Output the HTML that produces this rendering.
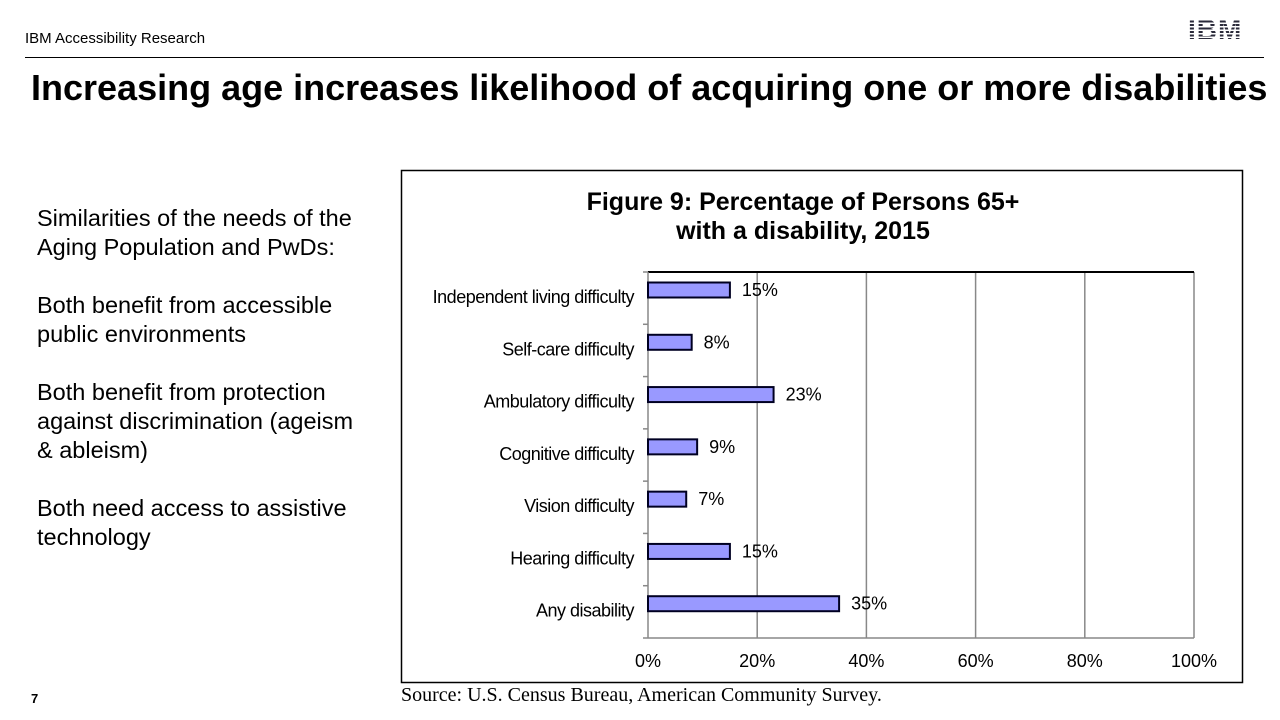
<!DOCTYPE html>
<html><head><meta charset="utf-8"><style>
body{margin:0;width:1280px;height:720px;background:#fff;position:relative;overflow:hidden;font-family:"Liberation Sans",Arial,sans-serif}
.abs{position:absolute}
</style></head><body>
<div class="abs" style="left:25px;top:30px;font-size:15px;color:#000">IBM Accessibility Research</div>
<div class="abs" style="left:1188px;top:15px;width:68px;height:30px;font:bold 28px 'Liberation Sans';color:#2a2a3a;letter-spacing:1px;line-height:30px">IBM</div>
<div class="abs" style="left:1186px;top:17px;width:72px;height:27px;background:repeating-linear-gradient(transparent 0 2px,#fff 2px 3.5px)"></div>
<div class="abs" style="left:25px;top:57px;width:1239px;height:1px;background:#000"></div>
<div class="abs" style="left:31px;top:67px;font-size:36px;font-weight:bold;color:#000;white-space:nowrap">Increasing age increases likelihood of acquiring one or more disabilities</div>
<div class="abs" style="left:37px;top:204px;width:328px;font-size:23.5px;line-height:29px;color:#000">
<p style="margin:0 0 29px">Similarities of the needs of the Aging Population and PwDs:</p>
<p style="margin:0 0 29px">Both benefit from accessible public environments</p>
<p style="margin:0 0 29px">Both benefit from protection against discrimination (ageism &amp; ableism)</p>
<p style="margin:0">Both need access to assistive technology</p></div>
<div class="abs" style="left:31px;top:691px;font-size:13px;font-weight:bold">7</div>
<div class="abs" style="left:401px;top:684px;font:20px 'Liberation Serif',serif;color:#000;white-space:nowrap">Source: U.S. Census Bureau, American Community Survey.</div>
<svg class="abs" style="left:0;top:0" width="1280" height="720">
<rect x="401.5" y="170.5" width="841" height="512" fill="#fff" stroke="#000" stroke-width="1.5"/>
<text x="803" y="210" text-anchor="middle" font-family="Liberation Sans" font-weight="bold" font-size="25">Figure 9: Percentage of Persons 65+</text>
<text x="803" y="239" text-anchor="middle" font-family="Liberation Sans" font-weight="bold" font-size="25">with a disability, 2015</text>
<g id="g"></g>
</svg>
<script>
const categories=["Independent living difficulty","Self-care difficulty","Ambulatory difficulty","Cognitive difficulty","Vision difficulty","Hearing difficulty","Any disability"];
const values=[15,8,23,9,7,15,35];
const ticks=[0,20,40,60,80,100];
const x0=648,x1=1194,yT=272,yB=638;
const xs=v=>x0+(x1-x0)*v/100;
const band=(yB-yT)/categories.length;
const g=document.getElementById('g');
const NS='http://www.w3.org/2000/svg';
function mk(t,a){const e=document.createElementNS(NS,t);for(const k in a)e.setAttribute(k,a[k]);g.appendChild(e);return e;}
ticks.forEach((t,i)=>{
 if(i>0){const l=mk('line',{x1:xs(t),x2:xs(t),y1:yT,y2:yB,stroke:'#888','stroke-width':1.5});
 
 }
 const tx=mk('text',{x:xs(t),y:667,'text-anchor':'middle','font-family':'Liberation Sans','font-size':18});
 tx.textContent=t+'%';
 
 
});
mk('line',{x1:x0,x2:x1,y1:yT,y2:yT,stroke:'#000','stroke-width':2});
mk('line',{x1:x0,x2:x1,y1:yB,y2:yB,stroke:'#888','stroke-width':1.5});
mk('line',{x1:x0,x2:x0,y1:yT,y2:yB,stroke:'#888','stroke-width':1.5});
for(let i=0;i<=categories.length;i++)mk('line',{x1:x0-5,x2:x0,y1:yT+band*i,y2:yT+band*i,stroke:'#888','stroke-width':1.5});
categories.forEach((c,i)=>{
 const cy=yT+band*i+18;
 const r=mk('rect',{x:x0,y:cy-7.5,width:xs(values[i])-x0,height:15,fill:'#9999ff',stroke:'#000022','stroke-width':2});
 
 
 const lb=mk('text',{x:634,y:cy+13,'text-anchor':'end','font-family':'Liberation Sans','font-size':18,'letter-spacing':-0.5});
 lb.textContent=c;
 
 
 const v=mk('text',{x:xs(values[i])+12,y:cy+6,'font-family':'Liberation Sans','font-size':18});
 v.textContent=values[i]+'%';
 
 
});
</script>
</body></html>
